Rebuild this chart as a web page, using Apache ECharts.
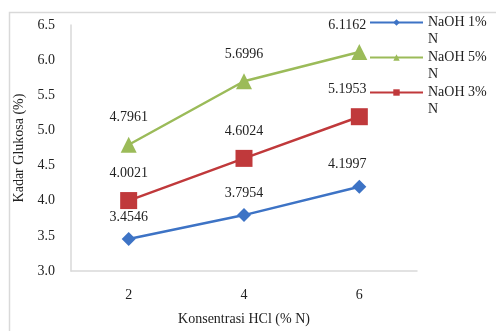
<!DOCTYPE html>
<html>
<head>
<meta charset="utf-8">
<script src="https://cdn.jsdelivr.net/npm/echarts@6/dist/echarts.min.js"></script>
<style>
  html, body { margin: 0; padding: 0; background: #fff; }
  #chart { width: 496px; height: 331px; }
</style>
</head>
<body>
<div id="chart"></div>
<script>
// HCl concentration (% N) on the x axis
const categories = ['2', '4', '6'];
// Glucose content (%) for each NaOH concentration
const naoh1 = [3.4546, 3.7954, 4.1997];
const naoh5 = [4.7961, 5.6996, 6.1162];
const naoh3 = [4.0021, 4.6024, 5.1953];
const seriesNames = ['NaOH 1%\nN', 'NaOH 5%\nN', 'NaOH 3%\nN'];
const yTicks = { min: 3.0, max: 6.5, step: 0.5 };

const FONT = '"Liberation Serif", "DejaVu Serif", serif';
const TEXT = '#222';

const chart = echarts.init(document.getElementById('chart'), null, { renderer: 'canvas' });

function line(name, values, color, symbol, size, labelDist) {
  // the last label of each line is nudged left, away from the legend
  const data = values.map((v, i) =>
    i === values.length - 1 ? { value: v, label: { offset: [-12, 0] } } : v);
  return {
    name: name,
    type: 'line',
    data: data,
    symbol: symbol,
    symbolSize: size,
    lineStyle: { color: color, width: 2.5 },
    itemStyle: { color: color },
    label: {
      show: true,
      position: 'top',
      distance: labelDist,
      fontFamily: FONT,
      fontSize: 14,
      color: TEXT,
      formatter: p => p.value.toFixed(4)
    },
    emphasis: { disabled: true }
  };
}

chart.setOption({
  animation: false,
  graphic: [{
    type: 'rect',
    left: 7, top: 10,
    shape: { width: 520, height: 330 },
    style: { fill: 'none', stroke: '#d9d9d9', lineWidth: 1.5 },
    silent: true
  }],
  grid: { left: 71, right: 79, top: 25, bottom: 58, containLabel: false },
  legend: {
    orient: 'vertical',
    left: 364,
    top: -8,
    itemWidth: 53,
    itemHeight: 8,
    itemGap: -16,
    // a blank leading line keeps the first line of each wrapped name level with its icon
    formatter: n => ' \n' + n,
    textStyle: { fontFamily: FONT, fontSize: 14, color: TEXT, lineHeight: 17 },
    data: seriesNames.map(n => ({ name: n }))
  },
  xAxis: {
    type: 'category',
    data: categories,
    boundaryGap: true,
    name: 'Konsentrasi HCl (% N)',
    nameLocation: 'middle',
    nameGap: 41,
    nameTextStyle: { fontFamily: FONT, fontSize: 14, color: TEXT },
    axisLine: { lineStyle: { color: '#d9d9d9', width: 1.5 } },
    axisTick: { show: false },
    axisLabel: { fontFamily: FONT, fontSize: 14, color: TEXT, margin: 17 }
  },
  yAxis: {
    type: 'value',
    min: yTicks.min,
    max: yTicks.max,
    interval: yTicks.step,
    name: 'Kadar Glukosa (%)',
    nameLocation: 'middle',
    nameGap: 44,
    nameTextStyle: { fontFamily: FONT, fontSize: 14, color: TEXT },
    axisLine: { show: true, lineStyle: { color: '#d9d9d9', width: 1.5 } },
    axisTick: { show: false },
    splitLine: { show: false },
    axisLabel: { fontFamily: FONT, fontSize: 14, color: TEXT, margin: 16, formatter: v => v.toFixed(1) }
  },
  series: [
    line(seriesNames[0], naoh1, '#3D73C5', 'diamond', 14, 8),
    line(seriesNames[1], naoh5, '#9BBB59', 'triangle', 16, 12),
    line(seriesNames[2], naoh3, '#C0393B', 'rect', 17, 12)
  ]
});
</script>
</body>
</html>
